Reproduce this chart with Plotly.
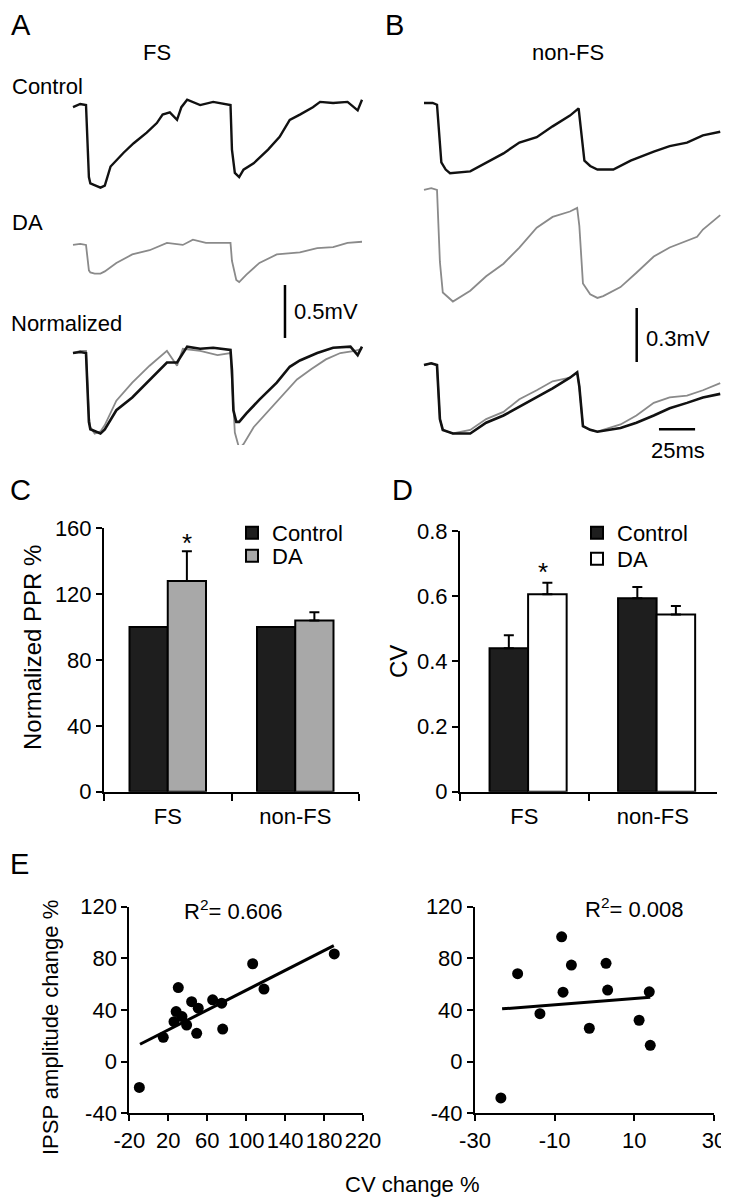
import plotly.graph_objects as go

# ---------------- DATA ----------------
# Panel A (FS) traces: time (ms) and voltage (mV, relative to baseline)
A_t_control = [0, 5, 9, 10, 11, 12, 15, 19, 22, 26, 35, 42, 51, 58, 62, 67, 72, 75, 79, 88, 97, 109, 110, 112, 115, 118, 125, 135, 143, 150, 157, 166, 171, 180, 190, 197, 200]
A_v_control = [-0.02, 0.01, 0.0, -0.35, -0.68, -0.74, -0.76, -0.78, -0.76, -0.58, -0.45, -0.36, -0.26, -0.17, -0.09, -0.07, -0.14, -0.02, 0.05, 0.0, 0.03, 0.0, -0.42, -0.64, -0.68, -0.61, -0.55, -0.42, -0.30, -0.14, -0.09, -0.02, 0.03, 0.02, 0.03, -0.05, 0.05]
A_t_da = [0, 5, 9, 10, 11, 12, 15, 19, 22, 30, 41, 53, 65, 76, 83, 92, 109, 110, 112, 113, 115, 120, 129, 141, 157, 169, 180, 190, 200]
A_v_da = [0.0, 0.01, 0.0, -0.12, -0.24, -0.26, -0.27, -0.27, -0.25, -0.17, -0.09, -0.05, 0.02, 0.0, 0.05, 0.02, 0.02, -0.15, -0.28, -0.33, -0.35, -0.28, -0.17, -0.09, -0.07, -0.03, -0.02, 0.02, 0.03]
A_t_norm_control = [0, 5, 9, 10, 11, 12, 15, 19, 22, 30, 41, 53, 65, 72, 79, 88, 97, 109, 110, 111, 113, 115, 120, 129, 141, 150, 157, 169, 180, 192, 197, 200]
A_v_norm_control = [0.0, 0.01, 0.0, -0.35, -0.65, -0.72, -0.74, -0.76, -0.72, -0.54, -0.42, -0.25, -0.09, -0.09, 0.06, 0.04, 0.05, 0.03, -0.16, -0.54, -0.65, -0.65, -0.57, -0.44, -0.28, -0.13, -0.07, 0.0, 0.05, 0.06, -0.02, 0.06]
A_t_norm_da = [0, 5, 9, 10, 11, 12, 15, 19, 22, 30, 41, 53, 65, 72, 76, 88, 100, 109, 110, 112, 115, 118, 125, 135, 145, 155, 165, 175, 185, 195, 200]
A_v_norm_da = [0.0, 0.02, 0.02, -0.3, -0.6, -0.7, -0.76, -0.74, -0.68, -0.45, -0.28, -0.12, 0.02, -0.12, 0.04, 0.02, -0.02, 0.0, -0.3, -0.75, -0.9, -0.86, -0.7, -0.55, -0.4, -0.25, -0.15, -0.06, 0.0, 0.02, 0.04]

# Panel B (non-FS) traces
B_t_control = [0, 6, 9, 12, 15, 18, 32, 43, 55, 66, 78, 89, 101, 107, 108, 111, 115, 120, 131, 143, 159, 170, 182, 193, 205]
B_v_control = [0, 0, -0.01, -0.33, -0.37, -0.39, -0.38, -0.33, -0.28, -0.22, -0.19, -0.13, -0.07, -0.03, -0.1, -0.32, -0.35, -0.37, -0.37, -0.32, -0.27, -0.24, -0.22, -0.18, -0.16]
B_t_da = [0, 5, 9, 11, 13, 20, 32, 43, 55, 66, 78, 89, 101, 106, 107.5, 110, 115, 120, 124, 136, 147, 159, 170, 182, 189, 193, 205]
B_v_da = [0, 0.01, 0, -0.4, -0.57, -0.62, -0.56, -0.48, -0.41, -0.32, -0.21, -0.15, -0.12, -0.1, -0.2, -0.52, -0.58, -0.6, -0.59, -0.54, -0.46, -0.37, -0.32, -0.28, -0.26, -0.22, -0.14]
B_t_norm = [0, 5, 9, 11, 13, 20, 32, 43, 55, 66, 78, 89, 101, 106, 107.5, 110, 115, 120, 136, 147, 159, 170, 182, 193, 205]
B_v_norm_control = [0, 0.01, 0, -0.3, -0.36, -0.38, -0.38, -0.32, -0.28, -0.23, -0.18, -0.13, -0.07, -0.04, -0.12, -0.34, -0.36, -0.37, -0.35, -0.32, -0.28, -0.24, -0.21, -0.18, -0.16]
B_v_norm_da = [0, 0.01, 0, -0.3, -0.36, -0.38, -0.36, -0.3, -0.26, -0.19, -0.14, -0.09, -0.07, -0.04, -0.12, -0.34, -0.36, -0.37, -0.33, -0.28, -0.21, -0.18, -0.17, -0.14, -0.10]

# Scale bars
SCALE_A_MV = 0.5
SCALE_B_MV = 0.3
SCALE_MS = 25

# Panel C: normalized PPR %
categories = ["FS", "non-FS"]
C_control = [100, 100]
C_da = [128, 104]
C_da_err = [18, 5]
C_yticks = [0, 40, 80, 120, 160]

# Panel D: CV
D_control = [0.44, 0.594]
D_control_err = [0.04, 0.034]
D_da = [0.606, 0.544]
D_da_err = [0.035, 0.026]
D_yticks = [0, 0.2, 0.4, 0.6, 0.8]

# Panel E: IPSP amplitude change vs CV change
E_fs_x = [-9.7, 14.9, 25.9, 28.1, 30.3, 34.1, 38.9, 44.0, 49.2, 50.8, 65.6, 74.9, 75.9, 106.7, 118.3, 190.5]
E_fs_y = [-20, 18.8, 30.9, 38.7, 57.3, 34.8, 28.3, 46.4, 21.9, 41.3, 47.8, 45.2, 25.2, 75.7, 56.1, 83.3]
E_fs_fit_x = [-9, 190]
E_fs_fit_y = [13.4, 89.7]
E_nfs_x = [-23.5, -19.3, -13.7, -8.25, -7.9, -5.8, -1.3, 2.9, 3.3, 11.2, 13.75, 14.0]
E_nfs_y = [-28.1, 68, 37.1, 96.5, 53.7, 74.7, 25.8, 76, 55.3, 32, 54, 12.6]
E_nfs_fit_x = [-23.2, 14]
E_nfs_fit_y = [40.8, 49.8]
E_yticks = [-40, 0, 40, 80, 120]
E_fs_xticks = [-20, 20, 60, 100, 140, 180, 220]
E_nfs_xticks = [-30, -10, 10, 30]

# ---------------- LAYOUT HELPERS ----------------
# The page body adds an 8px margin, so the figure is placed at (8, 8) in the window.
OFF = 8
W, H = 729 - OFF, 1199 - OFF
FONT = "Liberation Sans, Arial, Helvetica, sans-serif"
FS_ = 22


def fx(px):
    return (px - OFF) / W


def fy(py):
    return 1 - (py - OFF) / H


A_OFF = [0.0, -1.32, -2.34]
B_OFF = [0.0, -0.483, -1.456]
BLACK = "#111111"
GRAY = "#8a8a8a"

fig = go.Figure()


def add_trace_line(t, v, off, color, width, xa, ya):
    fig.add_trace(go.Scatter(x=t, y=[val + off for val in v], mode="lines",
                             line=dict(color=color, width=width),
                             xaxis=xa, yaxis=ya, showlegend=False, hoverinfo="skip"))


# Panel A
add_trace_line(A_t_control, A_v_control, A_OFF[0], BLACK, 2.4, "x", "y")
add_trace_line(A_t_da, A_v_da, A_OFF[1], GRAY, 1.8, "x", "y")
add_trace_line(A_t_norm_da, A_v_norm_da, A_OFF[2], GRAY, 1.8, "x", "y")
add_trace_line(A_t_norm_control, A_v_norm_control, A_OFF[2], BLACK, 2.6, "x", "y")
# Panel B
add_trace_line(B_t_control, B_v_control, B_OFF[0], BLACK, 2.4, "x2", "y2")
add_trace_line(B_t_da, B_v_da, B_OFF[1], GRAY, 1.8, "x2", "y2")
add_trace_line(B_t_norm, B_v_norm_da, B_OFF[2], GRAY, 1.8, "x2", "y2")
add_trace_line(B_t_norm, B_v_norm_control, B_OFF[2], BLACK, 2.6, "x2", "y2")

# Panel C bars
BAR_W = 0.3
fig.add_trace(go.Bar(x=categories, y=C_control, name="Control", xaxis="x3", yaxis="y3",
                     width=BAR_W, offset=-BAR_W,
                     marker=dict(color="#1e1e1e", line=dict(color="black", width=2)),
                     legend="legend", hoverinfo="skip"))
fig.add_trace(go.Bar(x=categories, y=C_da, name="DA", xaxis="x3", yaxis="y3",
                     width=BAR_W, offset=0,
                     marker=dict(color="#a8a8a8", line=dict(color="black", width=2)),
                     error_y=dict(type="data", symmetric=False, array=C_da_err, arrayminus=[0, 0],
                                  color="black", thickness=2, width=5),
                     legend="legend2", hoverinfo="skip"))
# Panel D bars
fig.add_trace(go.Bar(x=categories, y=D_control, name="Control", xaxis="x4", yaxis="y4",
                     width=BAR_W, offset=-0.27,
                     marker=dict(color="#1e1e1e", line=dict(color="black", width=2)),
                     error_y=dict(type="data", symmetric=False, array=D_control_err, arrayminus=[0, 0],
                                  color="black", thickness=2, width=5),
                     legend="legend3", hoverinfo="skip"))
fig.add_trace(go.Bar(x=categories, y=D_da, name="DA", xaxis="x4", yaxis="y4",
                     width=BAR_W, offset=0.03,
                     marker=dict(color="white", line=dict(color="black", width=2)),
                     error_y=dict(type="data", symmetric=False, array=D_da_err, arrayminus=[0, 0],
                                  color="black", thickness=2, width=5),
                     legend="legend4", hoverinfo="skip"))

# Panel E scatter + fits
fig.add_trace(go.Scatter(x=E_fs_x, y=E_fs_y, mode="markers", marker=dict(color="black", size=11),
                         xaxis="x5", yaxis="y5", showlegend=False, hoverinfo="skip"))
fig.add_trace(go.Scatter(x=E_fs_fit_x, y=E_fs_fit_y, mode="lines", line=dict(color="black", width=3),
                         xaxis="x5", yaxis="y5", showlegend=False, hoverinfo="skip"))
fig.add_trace(go.Scatter(x=E_nfs_x, y=E_nfs_y, mode="markers", marker=dict(color="black", size=11),
                         xaxis="x6", yaxis="y6", showlegend=False, hoverinfo="skip"))
fig.add_trace(go.Scatter(x=E_nfs_fit_x, y=E_nfs_fit_y, mode="lines", line=dict(color="black", width=3),
                         xaxis="x6", yaxis="y6", showlegend=False, hoverinfo="skip"))

hidden = dict(visible=False, showgrid=False, zeroline=False, automargin=False, fixedrange=True)
tickfont = dict(family=FONT, size=FS_, color="black")


def ax_common(**kw):
    d = dict(showline=True, linecolor="black", linewidth=2, ticks="outside", ticklen=6,
             tickwidth=2, tickcolor="black", showgrid=False, zeroline=False,
             tickfont=tickfont, fixedrange=True, automargin=False, tickangle=0)
    d.update(kw)
    return d


def ticks(vals):
    return dict(tickmode="array", tickvals=vals, ticktext=[str(v) for v in vals])


def leg(px, py_top):
    return dict(x=fx(px), y=fy(py_top), xanchor="left", yanchor="top",
                bgcolor="rgba(0,0,0,0)", font=dict(family=FONT, size=FS_, color="black"),
                itemclick=False, itemdoubleclick=False)


fig.update_layout(
    template="none",
    width=W, height=H, margin=dict(l=0, r=0, t=0, b=0, pad=0), autosize=False,
    paper_bgcolor="white", plot_bgcolor="rgba(0,0,0,0)",
    font=dict(family=FONT, size=FS_, color="black"),
    barmode="overlay",
    xaxis=dict(domain=[fx(63), fx(372)], range=[-10 / 1.445, 200 + 10 / 1.445], anchor="y", **hidden),
    yaxis=dict(domain=[fy(445), fy(90)], range=[-3.208, 0.142], anchor="x", **hidden),
    xaxis2=dict(domain=[fx(414), 1.0], range=[-10 / 1.445, (729 - 424) / 1.445], anchor="y2", **hidden),
    yaxis2=dict(domain=[fy(445), fy(90)], range=[-1.9, 0.072], anchor="x2", **hidden),
    xaxis3=ax_common(domain=[fx(104), fx(359)], anchor="y3", type="category",
                     categoryorder="array", categoryarray=categories, range=[-0.5, 1.5],
                     tickson="boundaries", ticklen=7, ticklabelstandoff=4),
    yaxis3=ax_common(domain=[fy(791.7), fy(528.3)], anchor="x3", range=[0, 160], **ticks(C_yticks)),
    xaxis4=ax_common(domain=[fx(460), fx(717)], anchor="y4", type="category",
                     categoryorder="array", categoryarray=categories, range=[-0.5, 1.5],
                     tickson="boundaries", ticklen=7, ticklabelstandoff=4),
    yaxis4=ax_common(domain=[fy(791.7), fy(531)], anchor="x4", range=[0, 0.8], **ticks(D_yticks)),
    xaxis5=ax_common(domain=[fx(129.3), fx(363)], anchor="y5", range=[-20, 220], **ticks(E_fs_xticks)),
    yaxis5=ax_common(domain=[fy(1113.3), fy(906.5)], anchor="x5", range=[-40, 120], **ticks(E_yticks)),
    xaxis6=ax_common(domain=[fx(475), fx(714)], anchor="y6", range=[-30, 30], **ticks(E_nfs_xticks)),
    yaxis6=ax_common(domain=[fy(1113.3), fy(906.5)], anchor="x6", range=[-40, 120], **ticks(E_yticks)),
    legend=leg(232, 512),
    legend2=leg(232, 535),
    legend3=leg(577, 512),
    legend4=leg(577, 538),
)

# Scale bars (data coordinates of the trace axes)
A_bar_t = 146.7
A_bar_top = -1.698
B_bar_t = 147.2
B_bar_top = -1.139
B_time_y = -1.813
B_time_start = 162.6
fig.add_shape(type="line", xref="x", yref="y", x0=A_bar_t, x1=A_bar_t,
              y0=A_bar_top, y1=A_bar_top - SCALE_A_MV, line=dict(color="black", width=2.5))
fig.add_shape(type="line", xref="x2", yref="y2", x0=B_bar_t, x1=B_bar_t,
              y0=B_bar_top, y1=B_bar_top - SCALE_B_MV, line=dict(color="black", width=2.5))
fig.add_shape(type="line", xref="x2", yref="y2", x0=B_time_start, x1=B_time_start + SCALE_MS,
              y0=B_time_y, y1=B_time_y, line=dict(color="black", width=2.5))


def text(s, px, py, size=FS_, xanchor="left", angle=0):
    fig.add_annotation(text=s, x=fx(px), y=fy(py), xref="paper", yref="paper",
                       xanchor=xanchor, yanchor="middle", showarrow=False, textangle=angle,
                       font=dict(family=FONT, size=size, color="black"))


# Panel letters
text("A", 9, 25, size=29)
text("B", 383, 25, size=29)
text("C", 8, 490, size=29)
text("D", 390, 490, size=29)
text("E", 8, 864, size=29)
# Titles/labels for traces
text("FS", 157, 53, xanchor="center")
text("non-FS", 568, 53, xanchor="center")
text("Control", 10, 86)
text("DA", 10, 222)
text("Normalized", 9, 323)
text("0.5mV", 292, 312)
text("0.3mV", 644, 338)
text("25ms", 678, 451, xanchor="center")
# Bars
text("*", 187, 543, size=26, xanchor="center")
text("*", 543, 572, size=26, xanchor="center")
text("Normalized PPR %", 32, 648, size=24, xanchor="center", angle=-90)
text("CV", 398, 662, size=24, xanchor="center", angle=-90)
# E
text("IPSP amplitude change %", 51, 1028, xanchor="center", angle=-90)
text("CV change %", 412, 1184, xanchor="center")
text("R<sup>2</sup>= 0.606", 182, 910)
text("R<sup>2</sup>= 0.008", 583, 908)

fig.write_html("out.html")
